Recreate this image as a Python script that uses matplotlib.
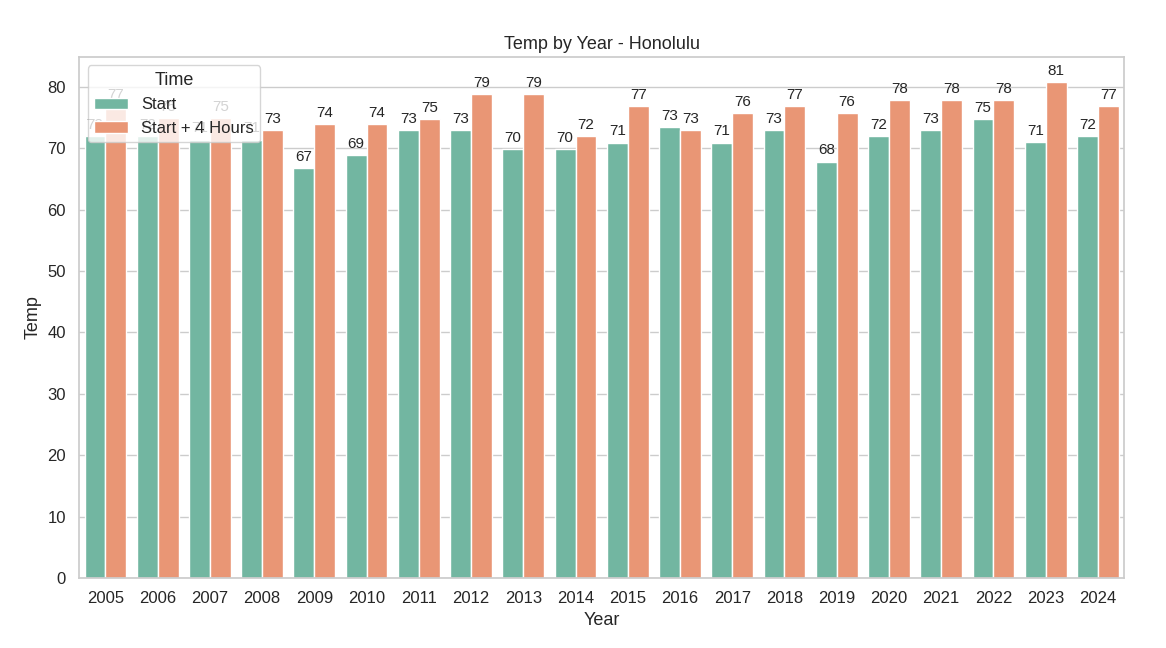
import matplotlib
matplotlib.use("Agg")
import matplotlib.pyplot as plt
import seaborn as sns
import pandas as pd

years = [2005, 2006, 2007, 2008, 2009, 2010, 2011, 2012, 2013, 2014,
         2015, 2016, 2017, 2018, 2019, 2020, 2021, 2022, 2023, 2024]
start = [71.9, 71.9, 71.4, 71.4, 66.8, 68.9, 73.0, 73.0, 69.8, 69.8,
         70.9, 73.4, 70.9, 73.0, 67.8, 71.9, 73.0, 74.8, 71.0, 71.9]
plus4 = [76.8, 74.9, 74.9, 73.0, 73.9, 73.9, 74.8, 78.8, 78.8, 71.9,
         76.8, 73.0, 75.7, 76.8, 75.7, 77.8, 77.8, 77.8, 80.8, 76.8]
series_names = ["Start", "Start + 4 Hours"]

df = pd.DataFrame({
    "Year": [str(y) for y in years] * 2,
    "Temp": start + plus4,
    "Time": [series_names[0]] * len(years) + [series_names[1]] * len(years),
})

sns.set_theme(style="whitegrid", palette="Set2")
plt.rcParams["font.family"] = ["Liberation Sans", "DejaVu Sans"]
fig, ax = plt.subplots(figsize=(11.66, 6.48), dpi=100)
fig.subplots_adjust(left=0.068, right=0.964, top=0.912, bottom=0.108)
sns.barplot(data=df, x="Year", y="Temp", hue="Time", ax=ax)
for c in ax.containers:
    ax.bar_label(c, fmt="%.0f", padding=3, fontsize=11)
ax.set_title("Temp by Year - Honolulu", fontsize=13)
ax.set_xlabel("Year", fontsize=13)
ax.set_ylabel("Temp", fontsize=13)
ax.tick_params(labelsize=12)
ax.legend(title="Time", loc="upper left", fontsize=12, title_fontsize=13)
fig.savefig("out.png", dpi=100)
